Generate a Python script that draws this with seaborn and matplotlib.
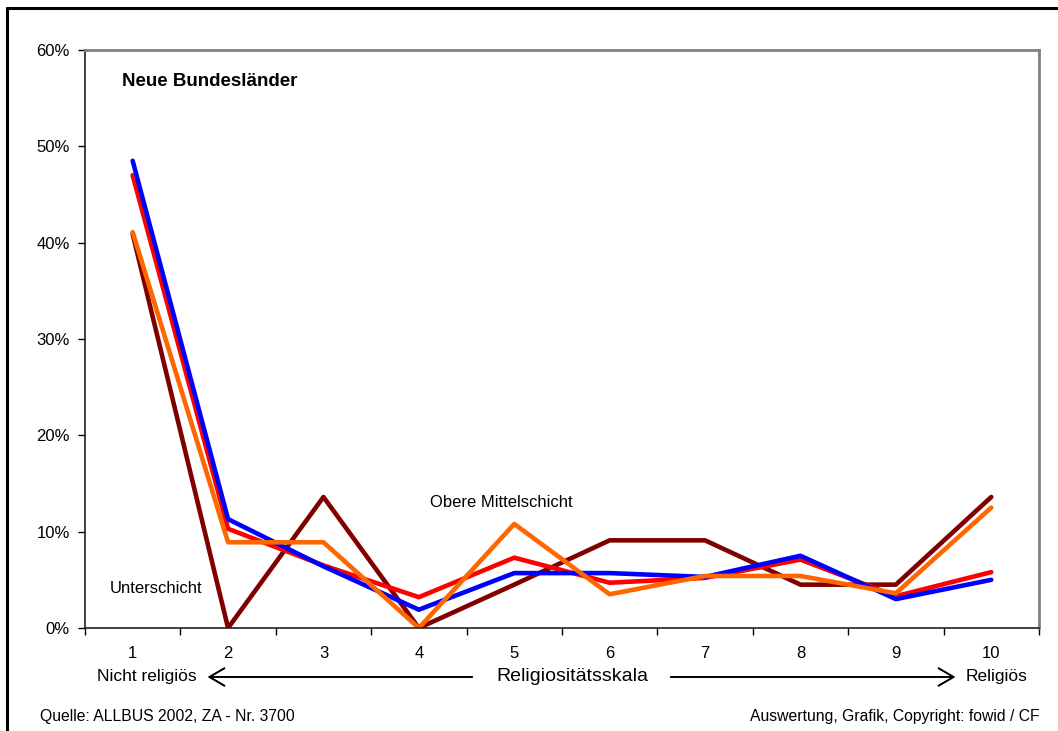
import seaborn as sns
import pandas as pd
import matplotlib.pyplot as plt
from matplotlib.lines import Line2D
from matplotlib.ticker import PercentFormatter

sns.set_theme(style="white")
plt.rcParams["font.family"] = ["Liberation Sans", "DejaVu Sans"]
plt.rcParams["text.color"] = "black"

# Religiositaetsskala 1..10, Anteile in %
skala = list(range(1, 11))
unterschicht = [40.9, 0.0, 13.6, 0.0, 4.5, 9.1, 9.1, 4.5, 4.5, 13.6]
arbeiterschicht = [47.0, 10.3, 6.5, 3.2, 7.3, 4.7, 5.2, 7.1, 3.3, 5.8]
mittelschicht = [48.5, 11.3, 6.4, 1.9, 5.7, 5.7, 5.3, 7.5, 3.0, 5.0]
obere_mittelschicht = [41.1, 8.9, 8.9, 0.0, 10.8, 3.5, 5.4, 5.4, 3.6, 12.5]

serien = {
    "Unterschicht": unterschicht,
    "Arbeiterschicht": arbeiterschicht,
    "Mittelschicht": mittelschicht,
    "Obere Mittelschicht": obere_mittelschicht,
}
farben = {
    "Unterschicht": "#800000",
    "Arbeiterschicht": "#FF0000",
    "Mittelschicht": "#0000FF",
    "Obere Mittelschicht": "#FF6600",
}

rows = []
for name, werte in serien.items():
    for x, v in zip(skala, werte):
        rows.append({"skala": x, "anteil": v / 100, "schicht": name})
df = pd.DataFrame(rows)

fig = plt.figure(figsize=(10.58, 7.31), dpi=100)
ax = fig.add_axes([0.0803, 0.1409, 0.9017, 0.7907])

sns.lineplot(data=df, x="skala", y="anteil", hue="schicht", palette=farben,
             hue_order=list(serien.keys()), linewidth=3.3, legend=False, ax=ax)

ax.set_xlim(0.5, 10.5)
ax.set_ylim(0, 0.6)
ax.set_yticks([i / 10 for i in range(7)])
ax.yaxis.set_major_formatter(PercentFormatter(1.0, decimals=0))
ax.set_xticks(skala)
ax.set_xticklabels([str(s) for s in skala])
ax.set_xticks([s + 0.5 for s in range(0, 11)], minor=True)
ax.tick_params(axis="x", which="major", length=0, pad=13, labelsize=12, colors="black")
ax.tick_params(axis="x", which="minor", length=5, width=1, direction="out", color="black", bottom=True)
ax.tick_params(axis="y", length=5, width=1, direction="out", pad=6, labelsize=12, colors="black", left=True)
ax.set_xlabel("")
ax.set_ylabel("")

for side in ["left", "bottom"]:
    ax.spines[side].set_color("#202020")
    ax.spines[side].set_linewidth(1.2)
for side in ["top", "right"]:
    ax.spines[side].set_color("#808080")
    ax.spines[side].set_linewidth(2)

ax.text(0.89, 0.567, "Neue Bundesländer", fontsize=13.5, fontweight="bold", va="center", ha="left")
ax.text(0.76, 0.0405, "Unterschicht", fontsize=12, va="center", ha="left")
ax.text(4.12, 0.13, "Obere Mittelschicht", fontsize=12, va="center", ha="left")

# Skala-Beschriftung unter der Achse
y_sk = 0.0739
fig.text(147 / 1058, y_sk, "Nicht religiös", fontsize=12.5, ha="center", va="center")
fig.text(997 / 1058, y_sk, "Religiös", fontsize=12.5, ha="center", va="center")
fig.text(572 / 1058, y_sk, "Religiositätsskala", fontsize=14, ha="center", va="center")
pfeil = dict(arrowstyle="->,head_length=0.6,head_width=0.35", color="black", lw=1.2, mutation_scale=18)
fig.add_artist(plt.annotate("", xy=(205 / 1058, y_sk), xytext=(475 / 1058, y_sk),
                            xycoords="figure fraction", textcoords="figure fraction", arrowprops=pfeil))
fig.add_artist(plt.annotate("", xy=(958 / 1058, y_sk), xytext=(668 / 1058, y_sk),
                            xycoords="figure fraction", textcoords="figure fraction", arrowprops=pfeil))

fig.text(40 / 1058, 0.0205, "Quelle: ALLBUS 2002, ZA - Nr. 3700", fontsize=11.3,
         ha="left", va="center")
fig.text(1040 / 1058, 0.0205, "Auswertung, Grafik, Copyright: fowid / CF", fontsize=11.3,
         ha="right", va="center")

# Rahmen links und oben
fig.add_artist(Line2D([7 / 1058, 7 / 1058], [0, 1 - 7.5 / 731], color="black", lw=2.2, transform=fig.transFigure))
fig.add_artist(Line2D([7 / 1058, 1], [1 - 7.5 / 731, 1 - 7.5 / 731], color="black", lw=2.2, transform=fig.transFigure))

fig.savefig("out.png", dpi=100)
